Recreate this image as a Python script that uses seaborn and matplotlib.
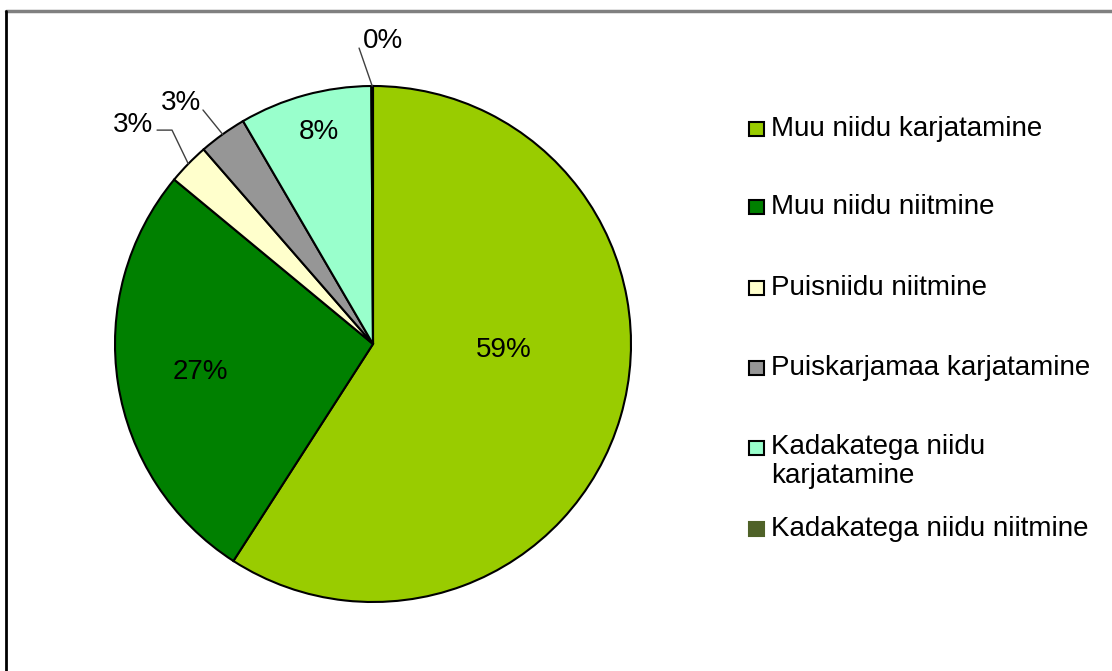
"""
Niitude hooldus - pie chart of management types
"""

import numpy as np
import seaborn as sns
import matplotlib.pyplot as plt
from matplotlib.lines import Line2D
from matplotlib.patches import Rectangle

sns.set_style('white')
plt.rcParams['font.family'] = ['Liberation Sans', 'DejaVu Sans']
plt.rcParams['text.color'] = 'black'

# Data

Categories = ['Muu niidu karjatamine', 'Muu niidu niitmine', 'Puisniidu niitmine',
              'Puiskarjamaa karjatamine', 'Kadakatega niidu\nkarjatamine',
              'Kadakatega niidu niitmine']
Shares = [59.1, 26.9, 2.6, 3.0, 8.3, 0.1]
Colors = ['#99CC00', '#008000', '#FFFFCC', '#969696', '#99FFCC', '#4F6228']

# Figure

fig = plt.figure(figsize=(11.12, 6.71), dpi=100)
ax = fig.add_axes([115 / 1112, 69 / 671, 516 / 1112, 516 / 671])

wedges, _ = ax.pie(Shares, colors=Colors, startangle=90, counterclock=False,
                   radius=1, wedgeprops={'edgecolor': 'black', 'linewidth': 1.5})
ax.set_xlim(-1, 1)
ax.set_ylim(-1, 1)
ax.set_aspect('equal')
ax.axis('off')

# Percentage labels

Labels = ['{:.0f}%'.format(s) for s in Shares]
InsidePos = {0: (0.505, -0.025), 1: (-0.67, -0.11), 4: (-0.21, 0.82)}
for i, pos in InsidePos.items():
    ax.text(pos[0], pos[1], Labels[i], ha='center', va='center', fontsize=20)

# Outside labels with leader lines
Total = sum(Shares)
Cum = np.cumsum(Shares) - np.array(Shares) / 2
Mids = np.deg2rad(Cum / Total * 360)
Edge = [(np.sin(a), np.cos(a)) for a in Mids]

# Puisniidu (elbow line)
ex, ey = Edge[2]
ax.plot([ex, -0.779, -0.837], [ey, 0.829, 0.829], color='#404040', lw=1,
        clip_on=False)
ax.text(-0.853, 0.85, Labels[2], ha='right', va='center', fontsize=20)

# Puiskarjamaa
ex, ey = Edge[3]
ax.plot([ex, -0.659], [ey, 0.907], color='#404040', lw=1, clip_on=False)
ax.text(-0.665, 0.935, Labels[3], ha='right', va='center', fontsize=20)

# Kadakatega niitmine
ex, ey = Edge[5]
ax.plot([ex, -0.054], [ey, 1.147], color='#404040', lw=1, clip_on=False)
ax.text(-0.04, 1.175, Labels[5], ha='left', va='center', fontsize=20)

# Legend drawn by hand to follow the original spacing
LegendY = [129, 207, 288, 368, 448, 529]
for i, (lab, col) in enumerate(zip(Categories, Colors)):
    y = LegendY[i]
    ec = 'black' if i < 5 else col
    fig.add_artist(Rectangle((749 / 1112, 1 - (y + 7) / 671), 15 / 1112, 14 / 671,
                             facecolor=col, edgecolor=ec, lw=1.5,
                             transform=fig.transFigure))
    if '\n' in lab:
        fig.text(771 / 1112, 1 - (y - 14) / 671, lab, ha='left', va='top',
                 fontsize=20, linespacing=1.15)
    else:
        fig.text(771 / 1112, 1 - y / 671, lab, ha='left', va='center', fontsize=20)

# Chart frame (cropped)
fig.add_artist(Line2D([6 / 1112, 1], [1 - 11 / 671, 1 - 11 / 671], color='#808080', lw=2.5))
fig.add_artist(Line2D([6 / 1112, 6 / 1112], [0, 1 - 11 / 671], color='black', lw=2))

plt.savefig('out.png', dpi=100)
